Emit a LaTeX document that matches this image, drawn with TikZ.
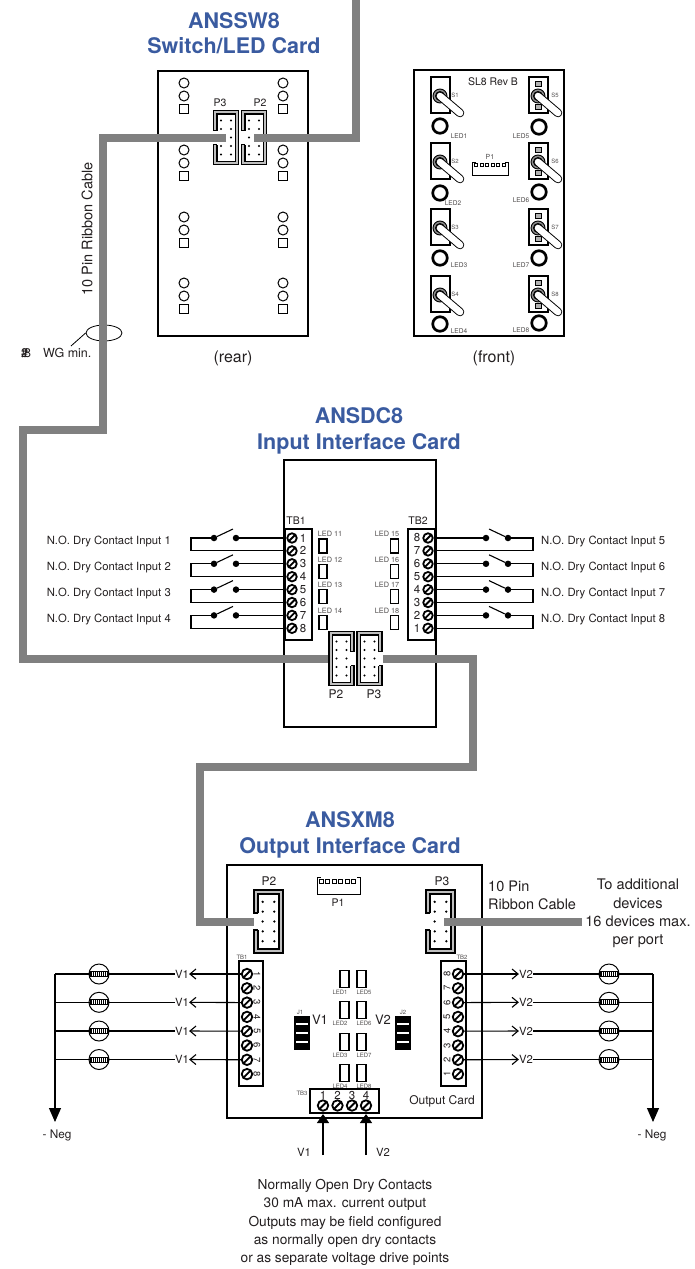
\documentclass[tikz,border=0pt]{standalone}
\usepackage{fontspec}
\setmainfont{TeX Gyre Heros}
\usepackage{xcolor}
\usetikzlibrary{arrows.meta,shapes.geometric}

\definecolor{titleblue}{HTML}{3A5BA0}
\definecolor{cablegray}{HTML}{808080}
\definecolor{inktext}{HTML}{231F20}

\tikzset{
    card/.style={draw,line width=1.8,rectangle,inner sep=0},
    cable/.style={draw=cablegray,line width=8},
    wire/.style={line width=1.1},
    title/.style={text=titleblue,font=\fontsize{21.5}{25.5}\selectfont\bfseries,align=center},
    lbl/.style={text=inktext,font=\fontsize{10.5}{13}\selectfont,inner sep=0},
    inlbl/.style={text=inktext,font=\fontsize{11.3}{13}\selectfont,inner sep=0},
    big/.style={text=inktext,font=\fontsize{12}{18.4}\selectfont,inner sep=0,align=center},
    tiny/.style={text=inktext!80,font=\fontsize{6}{7}\selectfont,inner sep=0},
    num/.style={text=inktext,font=\fontsize{11.5}{12}\selectfont,inner sep=0},
    screw/.style={circle,draw,line width=1.8,fill=white,minimum size=9.5,inner sep=0,
        path picture={\draw[line width=1.8] (path picture bounding box.south west) -- (path picture bounding box.north east);}},
    dot/.style={circle,fill=black,minimum size=6.5,inner sep=0},
    led/.style={draw,line width=1.2,fill=white,minimum width=8,minimum height=14,inner sep=0},
    ring/.style={circle,draw,line width=2.7,fill=white,minimum size=14.5,inner sep=0},
    lamp/.style={circle,draw,line width=1,minimum size=20,inner sep=0,
        path picture={\begin{scope}[shift={(path picture bounding box.center)}]
            \draw[fill=white,line width=0.8] (-9,-2.5) rectangle (9,2.5);
            \foreach \t in {-8,-6,...,8} {\draw[line width=0.9] (\t,-2.5) -- (\t,2.5);}
        \end{scope}}},
    hdr/.pic={
        \draw[line width=1.8,fill=black!25] (-12.5,-7) -- (-12.5,-27) -- (12.5,-27) -- (12.5,27) -- (-12.5,27) -- (-12.5,7)
            -- (-9,7) -- (-9,23.5) -- (9,23.5) -- (9,-23.5) -- (-9,-23.5) -- (-9,-7) -- cycle;
        \fill[white] (-9,-23.5) rectangle (9,23.5);
        \draw[line width=0.9] (-9,-7) -- (-9,-23.5) -- (9,-23.5) -- (9,23.5) -- (-9,23.5) -- (-9,7);
        \foreach \r in {-17,-8.5,0,8.5,17} {
            \fill (-5,\r) circle (1.1);
            \fill (5,\r) circle (1.1);
        }
    },
    toggle/.pic={
        \draw[line width=1.6] (-9,-19) rectangle (10,17);
        \draw[line width=0.9,fill=black!45] (0,0) circle (7);
        \draw[line width=0.9,fill=white] (0,0) circle (4.5);
        \draw[line width=8.5,line cap=round] (0,0) -- (20,17);
        \draw[line width=6.6,line cap=round,white] (0,0) -- (20,17);
    },
    blockj/.pic={
        \fill (-8,-17) rectangle (8,17);
        \foreach \s in {-10,-1,8} {\fill[white] (-6,\s) rectangle (6,\s+2.5);}
    },
}

\begin{document}
\begin{tikzpicture}[x=1pt,y=-1pt]
    \useasboundingbox (0,0) rectangle (694,1269);

    % Switch/LED card
    \node[title] (swtitle) at (234,33) {ANSSW8\\Switch/LED Card};
    \node[card,minimum width=150,minimum height=265] (rear) at (233,203.5) {};
    \node[card,minimum width=150,minimum height=266] (front) at (489,203) {};
    \node[big,font=\fontsize{16}{18}\selectfont] (reartxt) at (233,358) {(rear)};
    \node[big,font=\fontsize{16}{18}\selectfont] (fronttxt) at (494,358) {(front)};
    \node[lbl] (revtxt) at (493,82) {SL8 Rev B};

    % rear pads
    \foreach \x in {184,283} {
        \foreach \y in {83,150,217,283} {
            \draw[line width=1] (\x,\y) circle (5);
            \draw[line width=1] (\x,\y+13) circle (5);
            \draw[line width=1] (\x-4.5,\y+21.5) rectangle (\x+4.5,\y+30.5);
        }
    }
    \pic at (226,137.5) {hdr};
    \pic at (254,137.5) {hdr};
    \node[lbl] (swp3) at (220,103) {P3};
    \node[lbl] (swp2) at (260,103) {P2};

    % front switches
    \foreach \i/\y/\r in {1/96/126,2/162/193,3/228/258,4/295/324} {
        \pic at (440,\y) {toggle};
        \node[ring] (ledf\i) at (440,\r) {};
        \node[tiny] (sf\i) at (455,\y-1) {S\i};
    }
    \foreach \i/\ly/\lx in {1/136/459,2/203/453,3/265/459,4/331/459} {
        \node[tiny,font=\fontsize{6.6}{7}\selectfont] (lf\i) at (\lx,\ly) {LED\i};
    }
    \foreach \y in {96,162,228,295} {
        \draw[line width=0.7,fill=black!30] (535,\y-15) rectangle (541,\y-10);
        \draw[line width=0.7,fill=black!30] (535,\y+8) rectangle (541,\y+13);
    }
    \foreach \i/\y/\r/\ly in {5/96/127/136,6/162/192/200,7/228/258/265,8/295/323/330} {
        \pic at (538,\y) {toggle};
        \node[ring] (ledf\i) at (539,\r) {};
        \node[tiny] (sf\i) at (555,\y-1) {S\i};
        \node[tiny,font=\fontsize{6.6}{7}\selectfont] (lf\i) at (521,\ly) {LED\i};
    }
    \draw[line width=0.8] (472,162) -- (472,175) -- (508,175) -- (508,162) -- (505,162);
    \draw[line width=0.8] (472,162) -- (476,162);
    \foreach \x in {476,481.5,487,492.5,498,503.5} {
        \draw[line width=0.6] (\x-1.5,163.5) rectangle (\x+1.5,166.5);
    }
    \node[tiny,font=\fontsize{7}{8}\selectfont] (fp1) at (490,157) {P1};

    % ribbon bundle
    \node[ellipse,draw,line width=0.8,minimum width=36,minimum height=16,inner sep=0] (bundle) at (104,333) {};
    \node[inlbl,anchor=west,font=\fontsize{12.5}{14}\selectfont] (wg) at (21,353) {\#\kern-7pt 2\kern-4pt 8\kern 12pt WG min.};
    \coordinate (wgend) at (71,346);
    \draw[line width=0.8] (bundle.west) -- (wgend);
    \node[lbl,rotate=90,font=\fontsize{14.5}{16}\selectfont] (ribbon) at (87,229) {10 Pin Ribbon Cable};

    % Input card
    \node[title] (dctitle) at (359,431) {ANSDC8\\Input Interface Card};
    \node[card,minimum width=152,minimum height=267] (dc) at (360,593.5) {};
    \draw[line width=2.5,fill=white] (285,529) rectangle (312,640);
    \draw[line width=2.5,fill=white] (408,529) rectangle (435,640);
    \node[lbl] (tbi) at (296,521) {TB1};
    \node[lbl] (tbo) at (418,521) {TB2};
    \foreach \i in {1,...,8} {
        \pgfmathsetmacro{\y}{525.1+12.9*\i}
        \node[screw] (ia\i) at (292,\y) {};
        \node[num] (ian\i) at (303,\y) {\i};
        \pgfmathtruncatemacro{\n}{9-\i}
        \node[screw] (ib\i) at (428,\y) {};
        \node[num] (ibn\i) at (417,\y) {\n};
    }
    \foreach \i/\n/\m/\y in {1/11/15/546,2/12/16/571.5,3/13/17/596.5,4/14/18/622.5} {
        \node[led] (la\i) at (323,\y) {};
        \node[led] (lb\i) at (394.5,\y) {};
        \node[tiny,font=\fontsize{7.3}{8}\selectfont] (lat\i) at (330,\y-12) {LED \n};
        \node[tiny,font=\fontsize{7.3}{8}\selectfont] (lbt\i) at (387,\y-12) {LED \m};
    }
    \pic at (341.5,658.5) [xscale=-1] {hdr};
    \pic at (369.5,658.5) [xscale=-1] {hdr};
    \node[big] (dcp2) at (336,694) {P2};
    \node[big] (dcp3) at (374,694) {P3};

    % Dry contact inputs
    \foreach \i/\t/\r in {1/1/2,2/3/4,3/5/6,4/7/8} {
        \pgfmathsetmacro{\y}{525.1+12.9*\t}
        \pgfmathsetmacro{\yy}{525.1+12.9*\r}
        \pgfmathsetmacro{\yt}{515.5+26*\i}
        \node[dot] (sa\i) at (214,\y) {};
        \node[dot] (sb\i) at (236,\y) {};
        \coordinate (ca\i) at (191,\y);
        \coordinate (cb\i) at (191,\yy);
        \coordinate (tip\i) at (233,\y-9);
        \draw[wire] (sa\i) -- (tip\i);
        \draw[wire] (sb\i) -- (ia\t);
        \draw[wire] (sa\i) -- (ca\i) -- (cb\i) -- (ia\r);
        \node[inlbl,anchor=east] (na\i) at (171,\yt) {N.O. Dry Contact Input \i};
        % right side
        \pgfmathtruncatemacro{\m}{4+\i}
        \node[dot] (sc\i) at (486,\y) {};
        \node[dot] (sd\i) at (508,\y) {};
        \coordinate (cc\i) at (533,\y);
        \coordinate (cd\i) at (533,\yy);
        \coordinate (tiq\i) at (489,\y-9);
        \draw[wire] (sd\i) -- (tiq\i);
        \draw[wire] (sc\i) -- (ib\t);
        \draw[wire] (sd\i) -- (cc\i) -- (cd\i) -- (ib\r);
        \node[inlbl,anchor=west] (nb\i) at (541,\yt) {N.O. Dry Contact Input \m};
    }

    % Output card
    \node[title] (xmtitle) at (350,835) {ANSXM8\\Output Interface Card};
    \node[card,minimum width=255,minimum height=253] (xm) at (354.5,991.5) {};
    \pic at (268.5,921.5) [scale=1.16] {hdr};
    \pic at (440.5,921.5) [scale=1.16] {hdr};
    \node[big] (xmp2) at (269,881) {P2};
    \node[big] (xmp3) at (442,881) {P3};
    \draw[line width=0.9] (317,877) -- (317,894) -- (360,894) -- (360,877) -- (357,877);
    \draw[line width=0.9] (317,877) -- (321,877);
    \foreach \x in {321,327.5,334,340.5,347,353.5} {
        \draw[line width=0.6] (\x-2,879.5) rectangle (\x+2,883);
    }
    \node[lbl] (xmp1) at (338,903) {P1};
    \draw[line width=2.2,fill=white] (239,961) rectangle (263,1086);
    \draw[line width=2.2,fill=white] (441,961) rectangle (466,1086);
    \node[tiny] (xtb1) at (242,957) {TB1};
    \node[tiny] (xtb2) at (462,957) {TB2};
    \foreach \i in {1,...,8} {
        \pgfmathsetmacro{\y}{959.7+14.3*\i}
        \pgfmathtruncatemacro{\n}{9-\i}
        \node[num,rotate=-90,font=\fontsize{9.5}{10}\selectfont] (xan\i) at (257,\y) {\i};
        \node[screw,minimum size=10.5] (xa\i) at (247,\y) {};
        \node[num,rotate=90,font=\fontsize{9.5}{10}\selectfont] (xbn\i) at (447,\y) {\n};
        \node[screw,minimum size=10.5] (xb\i) at (458,\y) {};
    }
    \foreach \i/\m/\y in {1/5/979,2/6/1010,3/7/1042,4/8/1073} {
        \node[led,minimum width=9,minimum height=17] (xl\i) at (344.5,\y) {};
        \node[led,minimum width=9,minimum height=17] (xr\i) at (361.5,\y) {};
        \node[tiny] (xlt\i) at (340,\y+13) {LED\i};
        \node[tiny] (xrt\i) at (364,\y+13) {LED\m};
    }
    \pic at (301.5,1032.5) {blockj};
    \pic at (403,1032.5) {blockj};
    \node[tiny] (j1) at (300,1012) {J1};
    \node[tiny] (j2) at (403,1012) {J2};
    \node[big,font=\fontsize{13}{15}\selectfont] (xv1) at (320,1020) {V1};
    \node[big,font=\fontsize{13}{15}\selectfont] (xv2) at (383,1020) {V2};
    \draw[line width=2.2,fill=white] (310,1089) rectangle (379,1113);
    \node[tiny] (tb3) at (302,1093) {TB3};
    \foreach \i/\x in {1/323,2/337.5,3/352,4/366} {
        \node[num] (xcn\i) at (\x,1095) {\i};
        \node[screw,minimum size=10.5] (xc\i) at (\x,1105.5) {};
    }
    \node[lbl,font=\fontsize{12}{14}\selectfont] (outcard) at (442,1101) {Output Card};

    % Lamps and returns
    \foreach \i/\t/\y in {1/1/974,2/3/1002.3,3/5/1031,4/7/1059.5} {
        \node[inlbl] (vl\i) at (182,\y) {V1};
        \node[inlbl] (vr\i) at (526,\y) {V2};
        \draw[wire,-{Straight Barb[length=6,width=10]}] (xa\t) -- (vl\i.east);
        \draw[wire,-{Straight Barb[length=6,width=10]}] (xb\t) -- (vr\i.west);
        \coordinate (bl\i) at (55,\y);
        \coordinate (br\i) at (653,\y);
        \draw[wire] (vl\i.west) -- (bl\i);
        \draw[wire] (vr\i.east) -- (br\i);
        \node[lamp] (lpl\i) at (99,\y) {};
        \node[lamp] (lpr\i) at (609,\y) {};
    }
    \node[inlbl,font=\fontsize{11.8}{13}\selectfont] (negl) at (57,1135) {- Neg};
    \node[inlbl,font=\fontsize{11.8}{13}\selectfont] (negr) at (652,1135) {- Neg};
    \coordinate (endl) at (55,1122);
    \coordinate (endr) at (653,1122);
    \draw[wire,-{Triangle[length=14,width=12]}] (bl1) -- (endl);
    \draw[wire,-{Triangle[length=14,width=12]}] (br1) -- (endr);

    % TB3 feeds
    \coordinate (fa) at (323,1155);
    \coordinate (fb) at (366,1155);
    \coordinate (ta) at (323,1114);
    \coordinate (tb) at (366,1114);
    \draw[wire,-{Triangle[length=9,width=12]}] (fa) -- (ta);
    \draw[wire,-{Triangle[length=9,width=12]}] (fb) -- (tb);
    \node[inlbl] (fv1) at (304,1152) {V1};
    \node[inlbl] (fv2) at (383,1152) {V2};

    % text blocks
    \node[big,align=left,anchor=north west,font=\fontsize{14.5}{17.5}\selectfont] (rib2) at (488,881) {10 Pin\\Ribbon Cable};
    \node[big,font=\fontsize{14.6}{18.4}\selectfont] (addtxt) at (638,913.5) {To additional\\devices\\16 devices max.\\per port};
    \node[big,font=\fontsize{13.7}{18.4}\selectfont] (normtxt) at (345,1222.5) {Normally Open Dry Contacts\\30 mA max. current output\\Outputs may be field configured\\as normally open dry contacts\\or as separate voltage drive points};

    % Ribbon cables
    \coordinate (c1) at (356,0);
    \coordinate (c2) at (356,137.5);
    \coordinate (c3) at (254,137.5);
    \coordinate (c4) at (226,137.5);
    \coordinate (c5) at (103,137.5);
    \coordinate (c6) at (103,430);
    \coordinate (c7) at (23,430);
    \coordinate (c8) at (23,658.5);
    \coordinate (c9) at (328,658.5);
    \coordinate (c10) at (383,658.5);
    \coordinate (c11) at (473,658.5);
    \coordinate (c12) at (473,767);
    \coordinate (c13) at (199.5,767);
    \coordinate (c14) at (199.5,922);
    \coordinate (c15) at (254,922);
    \coordinate (c16) at (444,921.5);
    \coordinate (c17) at (582,921.5);
    \draw[cable] (c1) -- (c2) -- (c3);
    \draw[cable] (c4) -- (c5) -- (c6) -- (c7) -- (c8) -- (c9);
    \draw[cable] (c10) -- (c11) -- (c12) -- (c13) -- (c14) -- (c15);
    \draw[cable] (c16) -- (c17);
\end{tikzpicture}
\end{document}
